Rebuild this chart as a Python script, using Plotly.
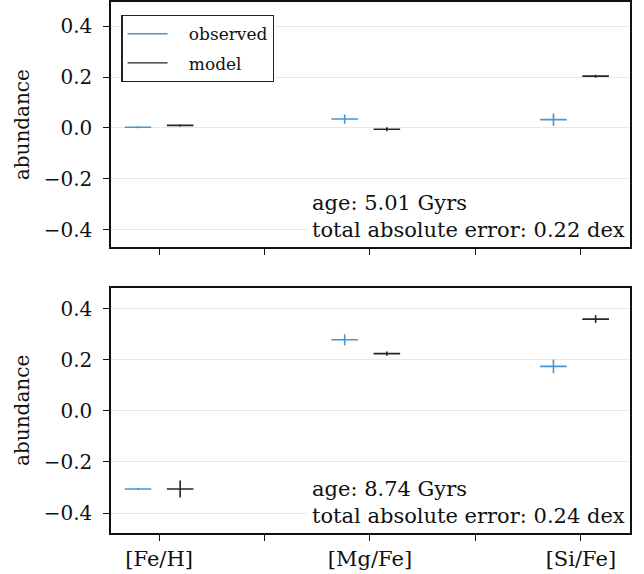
import plotly.graph_objects as go
from plotly.subplots import make_subplots

# abundance ratios, one panel per star
elements = ['[Fe/H]', '[Mg/Fe]', '[Si/Fe]']
obs_x = [-0.10, 0.88, 1.87]
model_x = [0.10, 1.08, 2.07]

obs_top = [0.003, 0.035, 0.033]
obs_top_err = [0.004, 0.018, 0.024]
model_top = [0.010, -0.005, 0.204]
model_top_err = [0.004, 0.008, 0.006]

obs_bot = [-0.306, 0.278, 0.174]
obs_bot_err = [0.004, 0.022, 0.027]
model_bot = [-0.306, 0.224, 0.359]
model_bot_err = [0.033, 0.008, 0.015]

ages = [5.01, 8.74]
total_err = [0.22, 0.24]

x_halfwidth = 0.063

obs_color = '#4a95cf'
model_color = '#262626'
font_family = 'DejaVu Serif, serif'
nb = '\u00a0'

fig = make_subplots(rows=2, cols=1, shared_xaxes=True, vertical_spacing=0.076)


def add_points(xs, ys, errs, color, row):
    fig.add_trace(go.Scatter(
        x=xs, y=ys, mode='markers',
        marker=dict(size=1, color=color),
        error_x=dict(type='constant', value=x_halfwidth, color=color, thickness=1.6, width=0),
        error_y=dict(type='data', array=errs, color=color, thickness=1.6, width=0),
        showlegend=False, hoverinfo='skip'
    ), row=row, col=1)


add_points(obs_x, obs_top, obs_top_err, obs_color, 1)
add_points(model_x, model_top, model_top_err, model_color, 1)
add_points(obs_x, obs_bot, obs_bot_err, obs_color, 2)
add_points(model_x, model_bot, model_bot_err, model_color, 2)

# legend entries drawn as line samples
fig.add_trace(go.Scatter(x=[None], y=[None], mode='lines', name=nb * 3 + 'observed', legendgroup='a',
                         line=dict(color=obs_color, width=1.4)), row=1, col=1)
fig.add_trace(go.Scatter(x=[None], y=[None], mode='lines', name=nb * 3 + 'model' + nb, legendgroup='b',
                         line=dict(color=model_color, width=1.4)), row=1, col=1)

for i, (age, err) in enumerate(zip(ages, total_err)):
    ax = '' if i == 0 else '2'
    fig.add_annotation(
        x=1, y=0, xref='x' + ax + ' domain', yref='y' + ax + ' domain',
        xanchor='right', yanchor='bottom', align='left', showarrow=False,
        text=f'age: {age:.2f} Gyrs<br>total absolute error: {err:.2f} dex',
        font=dict(family=font_family, size=21, color='#111'),
        bgcolor='white', borderpad=4
    )

axis_style = dict(
    showline=True, linecolor='#111', linewidth=1.5, mirror=True,
    ticks='outside', ticklen=6, tickwidth=1.2, tickcolor='#111',
    zeroline=False, automargin=False,
)

fig.update_xaxes(
    range=[-0.228, 2.233],
    tickvals=[0, 0.5, 1, 1.5, 2],
    ticktext=[elements[0], '', elements[1], '', elements[2]],
    tickfont=dict(family=font_family, size=21, color='#111'),
    showgrid=False, **axis_style
)
fig.update_xaxes(showticklabels=False, row=1, col=1)

fig.update_yaxes(
    dtick=0.2, tick0=0, tickformat='.1f',
    tickfont=dict(family=font_family, size=20, color='#111'),
    ticklabelstandoff=7,
    showgrid=True, gridcolor='#e8e8e8', gridwidth=1,
    title_text='abundance', title_standoff=9,
    title_font=dict(family=font_family, size=20, color='#111'),
    **axis_style
)
fig.update_yaxes(range=[-0.47, 0.496], row=1, col=1)
fig.update_yaxes(range=[-0.478, 0.482], row=2, col=1)

fig.update_layout(
    width=644, height=574,
    margin=dict(l=111, r=14, t=2, b=41, autoexpand=False),
    plot_bgcolor='white', paper_bgcolor='white',
    font=dict(family=font_family, size=18, color='#111'),
    legend=dict(
        x=0.02, y=0.9755, xanchor='left', yanchor='top',
        bordercolor='#222', borderwidth=1.2, bgcolor='white',
        font=dict(family=font_family, size=17), tracegroupgap=4,
        itemwidth=40, traceorder='grouped'
    ),
)

fig.write_html('out.html', config={'displayModeBar': False},
               post_script="document.body.style.margin='0';")
